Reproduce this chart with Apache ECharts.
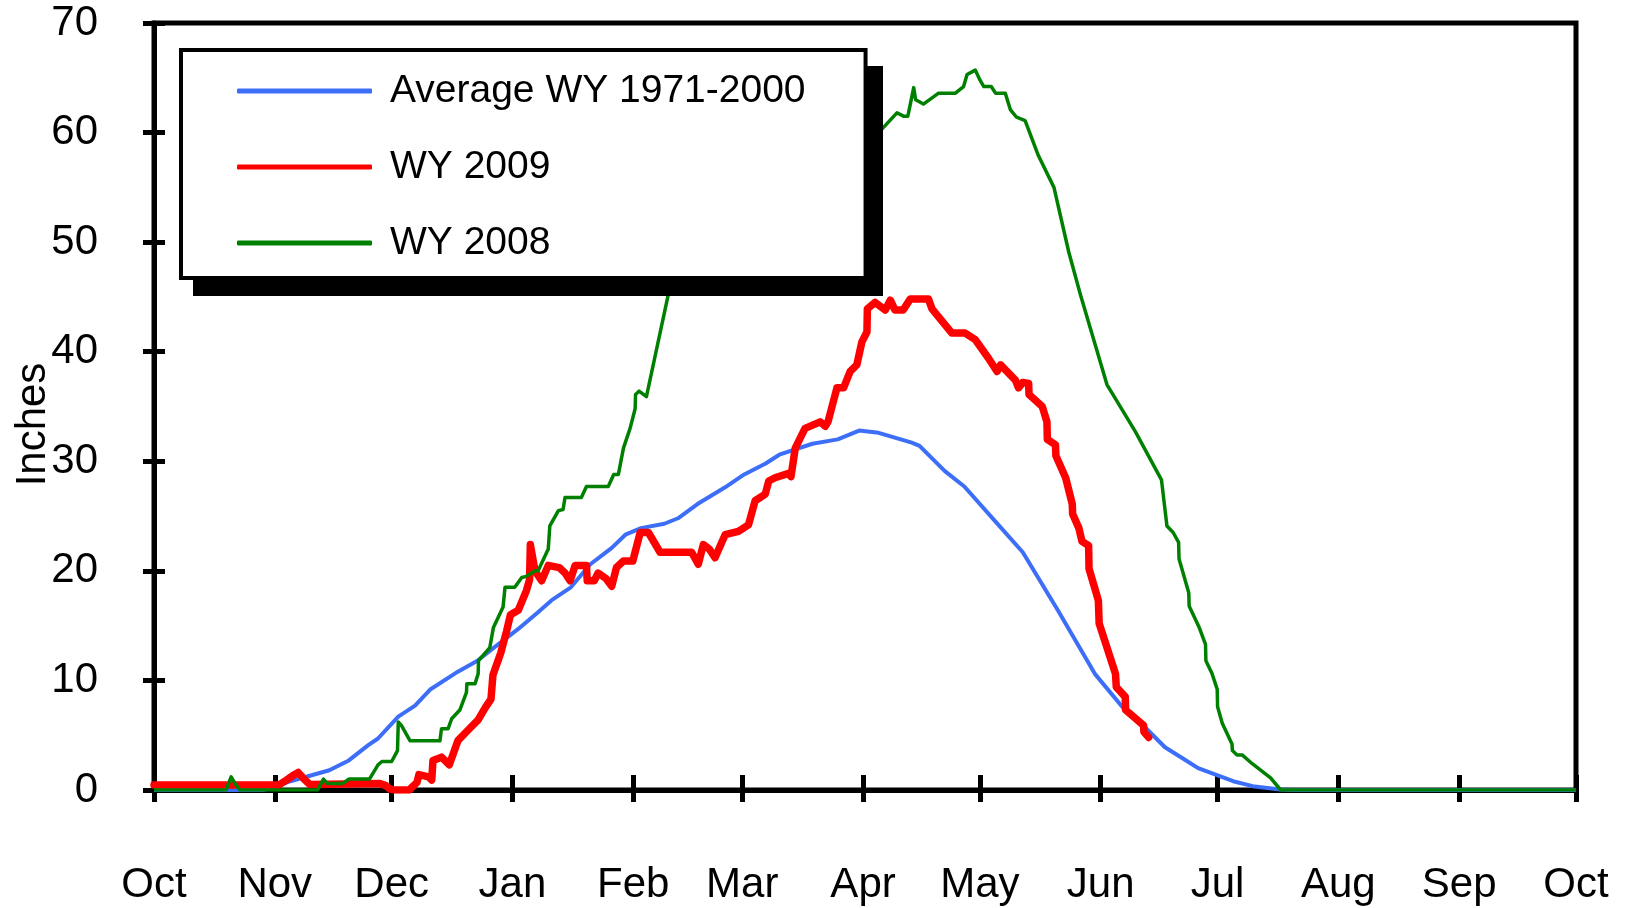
<!DOCTYPE html>
<html>
<head>
<meta charset="utf-8">
<title>Snow water equivalent</title>
<script src="https://cdn.jsdelivr.net/npm/echarts@6/dist/echarts.min.js"></script>
<style>
  html, body { margin: 0; padding: 0; background: #fff; }
  #chart { width: 1632px; height: 908px; }
</style>
</head>
<body>
<div id="chart"></div>
<script>
// day 0 = Oct 1 of the water year
const monthLabels = ['Oct', 'Nov', 'Dec', 'Jan', 'Feb', 'Mar', 'Apr', 'May', 'Jun', 'Jul', 'Aug', 'Sep', 'Oct']
const monthStartDays = [0, 31, 61, 92, 123, 151, 182, 212, 243, 273, 304, 335, 365]
const inchTicks = [0, 10, 20, 30, 40, 50, 60, 70]

const seriesNames = ['Average WY 1971-2000', 'WY 2009', 'WY 2008']

// [day, inches]
const avgData = [
  [0, 0], [28, 0], [31, 0.3], [35, 0.8], [40, 1.3], [45, 1.8], [50, 2.7], [55, 4.1],
  [57.5, 4.7], [62.7, 6.7], [67, 7.7], [71, 9.2], [78, 10.8], [83, 11.8], [88, 13.2],
  [93.5, 14.7], [98.5, 16.2], [102, 17.3], [107, 18.5], [112, 20.6], [117.5, 22.1],
  [121, 23.3], [125, 23.9], [131, 24.3], [134.5, 24.8], [139.5, 26.1], [146.5, 27.6],
  [151.5, 28.8], [157, 29.8], [160.5, 30.6], [169, 31.6], [175.5, 32.0], [181, 32.8],
  [186, 32.6], [194.5, 31.7], [196.5, 31.4], [203, 29.1], [208, 27.7], [216, 24.5],
  [223, 21.7], [232, 16.4], [241.5, 10.6], [249, 7.4], [251, 7.0], [255, 5.5],
  [259.5, 3.9], [264, 2.9], [268, 2.0], [272.5, 1.4], [277, 0.8], [282, 0.35],
  [289, 0.05], [292, 0], [365, 0]
]

const wy2009Data = [
  [0, 0.45], [32, 0.45], [34, 0.9], [36, 1.4], [37, 1.6], [38.5, 1.0], [40, 0.5], [58, 0.6],
  [59.5, 0.4], [60.5, 0.1], [61.5, 0], [65.5, 0], [67.5, 0.7], [68, 1.4], [70.5, 1.2], [71.3, 0.9],
  [71.6, 2.7], [73.8, 3.0], [75.8, 2.3], [78, 4.5], [80.7, 5.5], [83.2, 6.4], [85, 7.5],
  [86.5, 8.3], [87, 10.5], [89, 12.5], [90.5, 14.5], [91.5, 16.0], [93.5, 16.4],
  [95.6, 18.2], [96.4, 19.2], [96.6, 22.4], [97.8, 20.0], [99.5, 19.1], [101.2, 20.5],
  [104, 20.3], [105.5, 19.8], [106.8, 19.1], [108.1, 20.5], [111, 20.5], [111.2, 19.1],
  [113, 19.1], [114, 19.8], [116, 19.3], [117.5, 18.6], [118.7, 20.3], [120.5, 20.9],
  [122.9, 20.9], [124.8, 23.5], [126.9, 23.5], [129.9, 21.7], [138, 21.7], [139.7, 20.6],
  [141, 22.4], [142.5, 22.0], [144, 21.2], [146.6, 23.3], [150, 23.6], [152.6, 24.2],
  [154.3, 26.4], [156.9, 27.0], [157.8, 28.2], [159.4, 28.5], [162.9, 28.9], [163.5, 28.6],
  [164.6, 31.2], [167.1, 33.0], [171, 33.6], [172.3, 33.2], [173, 33.6], [175.3, 36.7],
  [177, 36.7], [178.7, 38.2], [180.4, 38.8], [181.7, 40.9], [183, 41.8], [183.1, 43.9],
  [185.1, 44.5], [187.7, 43.8], [189, 44.7], [190.2, 43.8], [192.3, 43.8], [194.1, 44.8],
  [198.8, 44.8], [199.7, 43.9], [204.8, 41.7], [208.2, 41.7], [210.8, 41.1], [214.2, 39.4],
  [216.4, 38.2], [217.3, 38.8], [221.1, 37.4], [221.9, 36.7], [223, 37.2], [224.5, 37.1],
  [224.6, 36.1], [228, 35.0], [229.2, 33.6], [229.3, 32.0], [231.4, 31.5], [231.5, 30.5],
  [234, 28.5], [235.7, 26.1], [235.8, 25.2], [237.4, 23.9], [238.2, 22.7], [239.9, 22.3],
  [240, 20.2], [242.4, 17.3], [242.6, 15.2], [246.8, 10.6], [247, 9.4], [249.3, 8.5],
  [249.4, 7.3], [254, 5.9], [254.1, 5.3], [255.3, 4.8]
]

const wy2008Data = [
  [0, 0], [18.5, 0], [19.8, 1.2], [20.8, 0.6], [22, 0], [42, 0], [43.5, 1.0], [44.5, 0.6],
  [48.5, 0.6], [50, 1.0], [55.3, 1.0], [57.5, 2.3], [58.5, 2.6], [61, 2.6], [62.5, 3.6],
  [62.7, 6.2], [63.5, 5.9], [65.7, 4.5], [73.4, 4.5], [73.8, 5.6], [75.5, 5.6], [76.4, 6.5],
  [78.5, 7.3], [80.2, 8.9], [80.3, 9.7], [82.4, 9.7], [83.2, 10.6], [83.3, 11.8], [86.2, 13.0],
  [87.1, 14.8], [89.6, 16.7], [90.1, 18.5], [92.6, 18.5], [94.4, 19.4], [95.6, 19.5],
  [97.8, 20.0], [98.6, 20.0], [101.2, 22.0], [101.6, 24.1], [103.8, 25.5], [105, 25.6],
  [105.5, 26.7], [109.7, 26.7], [111, 27.7], [116.6, 27.7], [118, 28.8], [119.2, 28.8],
  [120.5, 31.2], [122.2, 33.0], [123.5, 34.8], [123.6, 36.1], [124.5, 36.4], [126.4, 35.9],
  [132, 45.2], [136, 50], [142, 54], [150, 56], [160, 57.5], [170, 58.5], [180, 59.2],
  [186, 60.0], [190.7, 61.8], [192.4, 61.5], [193.5, 61.5], [195, 64.1], [195.5, 63.0],
  [197.5, 62.6], [201.4, 63.6], [205.7, 63.6], [207.8, 64.2], [208.7, 65.3], [210.8, 65.7],
  [212, 64.8], [213, 64.2], [214.9, 64.2], [216, 63.6], [218.5, 63.6], [219.8, 62.1],
  [221.4, 61.4], [223.6, 61.1], [227, 57.9], [231, 55.0], [234.8, 49.1], [237.8, 45.2],
  [244.6, 37.0], [251.9, 32.7], [258.6, 28.3], [260, 24.1], [261.6, 23.5], [263, 22.6],
  [263.1, 21.1], [265.6, 18.0], [265.7, 16.8], [268.2, 14.9], [269.9, 13.3], [270, 11.8],
  [271.6, 10.6], [272.9, 9.2], [273, 7.6], [274.2, 6.1], [276.7, 4.2], [276.8, 3.6],
  [278, 3.2], [279.3, 3.2], [281.9, 2.4], [286.6, 1.1], [289.2, 0], [365, 0]
]

const font = 'Liberation Sans, Arial, sans-serif'
const chart = echarts.init(document.getElementById('chart'), null, { renderer: 'canvas' })

const xMin = monthStartDays[0]
const xMax = monthStartDays[monthStartDays.length - 1]
const yMin = inchTicks[0]
const yMax = inchTicks[inchTicks.length - 1]

// two copies of each axis: one draws ticks outside, the other inside, so ticks cross the line
function xAxis(inside) {
  return {
    type: 'value',
    position: 'bottom',
    min: xMin,
    max: xMax,
    axisLine: { show: !inside, onZero: false, lineStyle: { color: '#000', width: 5 } },
    axisTick: {
      show: true,
      inside: inside,
      length: inside ? 15 : 12,
      customValues: monthStartDays,
      lineStyle: { color: '#000', width: 5 }
    },
    axisLabel: {
      show: !inside,
      customValues: monthStartDays,
      formatter: v => monthLabels[monthStartDays.indexOf(v)],
      margin: 73,
      color: '#000',
      fontFamily: font,
      fontSize: 42,
      lineHeight: 44
    },
    splitLine: { show: false }
  }
}

function yAxis(inside) {
  return {
    type: 'value',
    position: 'left',
    min: yMin,
    max: yMax,
    interval: 10,
    name: inside ? '' : 'Inches',
    nameLocation: 'middle',
    nameRotate: 90,
    nameGap: 100,
    nameMoveOverlap: false,
    nameTextStyle: { color: '#000', fontFamily: font, fontSize: 42, padding: [0, 36, 0, 0] },
    axisLine: { show: !inside, onZero: false, lineStyle: { color: '#000', width: 5 } },
    axisTick: { show: true, inside: inside, length: 11, lineStyle: { color: '#000', width: 5 } },
    axisLabel: {
      show: !inside,
      margin: 56,
      color: '#000',
      fontFamily: font,
      fontSize: 42
    },
    splitLine: { show: false }
  }
}

chart.setOption({
  animation: false,
  backgroundColor: '#fff',
  grid: {
    left: 154,
    right: 56,
    top: 23,
    bottom: 118,
    show: true,
    borderColor: '#000',
    borderWidth: 5,
    backgroundColor: 'transparent',
    outerBoundsMode: 'none'
  },
  // drop shadow behind the legend box, above the series lines
  graphic: [{
    type: 'rect',
    z: 10,
    shape: { x: 193, y: 66, width: 690, height: 230 },
    style: { fill: '#000' },
    silent: true
  }],
  legend: {
    z: 20,
    orient: 'vertical',
    left: 181,
    top: 50,
    data: seriesNames,
    icon: 'roundRect',
    itemWidth: 135,
    itemHeight: 5,
    itemGap: 36,
    padding: [21, 60, 15, 56],
    backgroundColor: '#fff',
    borderColor: '#000',
    borderWidth: 4,
    borderRadius: 0,
    selectedMode: false,
    textStyle: {
      color: '#000',
      fontFamily: font,
      fontSize: 39,
      lineHeight: 40,
      padding: [0, 0, 0, 13]
    }
  },
  xAxis: [xAxis(false), xAxis(true)],
  yAxis: [yAxis(false), yAxis(true)],
  series: [
    {
      name: seriesNames[0],
      type: 'line',
      data: avgData,
      symbol: 'none',
      color: '#3d6ef7',
      lineStyle: { width: 4, color: '#3d6ef7', join: 'round' }
    },
    {
      name: seriesNames[1],
      type: 'line',
      data: wy2009Data,
      symbol: 'none',
      color: '#ff0000',
      lineStyle: { width: 7.5, color: '#ff0000', cap: 'round', join: 'round' }
    },
    {
      name: seriesNames[2],
      type: 'line',
      data: wy2008Data,
      symbol: 'none',
      color: '#008000',
      lineStyle: { width: 3.5, color: '#008000', join: 'round' }
    }
  ]
})
</script>
</body>
</html>
